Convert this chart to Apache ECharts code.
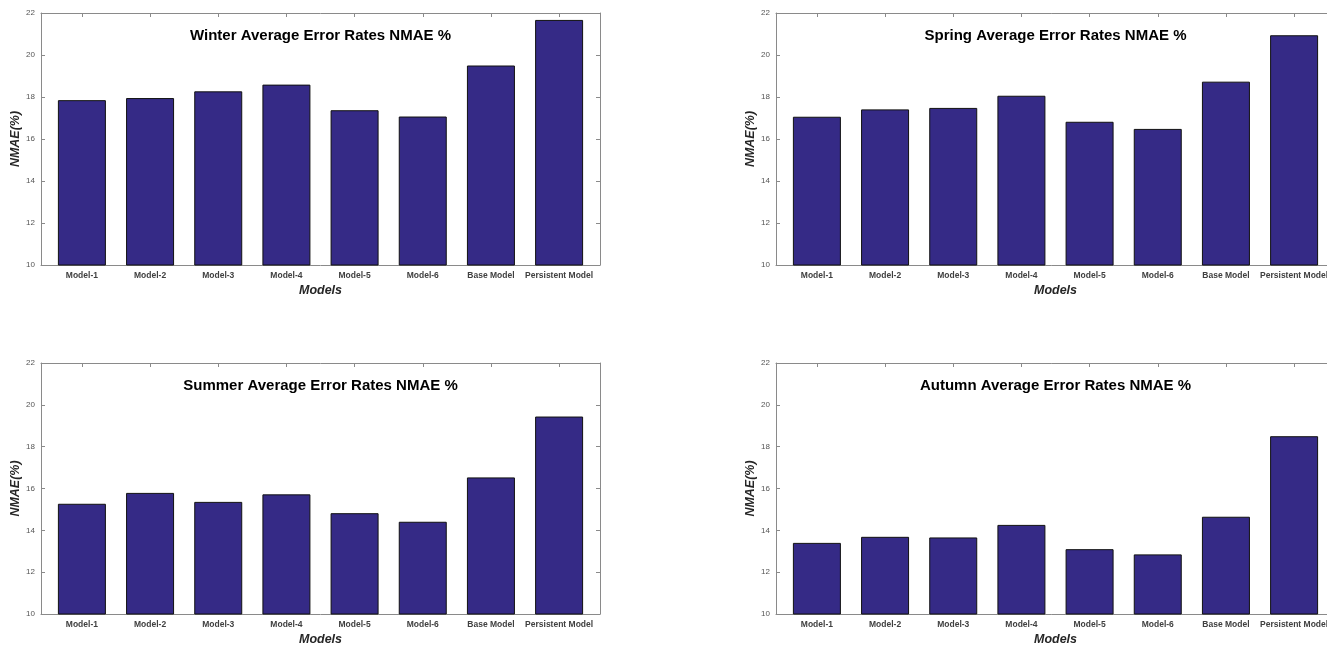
<!DOCTYPE html>
<html>
<head>
<meta charset="utf-8">
<script src="https://cdn.jsdelivr.net/npm/echarts@6/dist/echarts.min.js"></script>
<style>
html,body{margin:0;padding:0;background:#fff;}
#chart{width:1327px;height:645px;}
</style>
</head>
<body>
<div id="chart"></div>
<script>
const categories = ['Model-1','Model-2','Model-3','Model-4','Model-5','Model-6','Base Model','Persistent Model'];
const winter = [17.85, 17.95, 18.27, 18.59, 17.37, 17.07, 19.50, 21.67];
const spring = [17.06, 17.41, 17.48, 18.06, 16.82, 16.48, 18.73, 20.94];
const summer = [15.27, 15.79, 15.36, 15.72, 14.82, 14.41, 16.53, 19.44];
const autumn = [13.40, 13.69, 13.66, 14.26, 13.10, 12.85, 14.65, 18.50];
const titles = ['Winter Average Error Rates NMAE %','Spring Average Error Rates NMAE %','Summer Average Error Rates NMAE %','Autumn Average Error Rates NMAE %'];
const yName = 'NMAE(%)';
const xName = 'Models';
const yMin = 10, yMax = 22, yStep = 2;

const seriesValues = [winter, spring, summer, autumn];
const xLo = 0.4, xHi = 8.6;
// the right-hand panels run past the page edge, as in the original figure
const layouts = [
  {left: 41, top: 13, width: 559, height: 252},
  {left: 776, top: 13, width: 559, height: 252},
  {left: 41, top: 363, width: 559, height: 251},
  {left: 776, top: 363, width: 559, height: 251}
];
const FONT = 'Liberation Sans, Arial, Helvetica, sans-serif';
const lineCol = '#8a8a8a';
const tickPos = categories.map((c, i) => i + 1);

const option = {
  animation: false,
  backgroundColor: '#ffffff',
  textStyle: {fontFamily: FONT},
  title: [], grid: [], xAxis: [], yAxis: [], series: []
};

layouts.forEach((L, p) => {
  const centerX = L.left + L.width / 2;
  option.grid.push({left: L.left, top: L.top, width: L.width, height: L.height,
    containLabel: false, outerBoundsMode: 'none'});
  option.title.push({
    text: titles[p],
    left: centerX,
    top: L.top + 15,
    padding: 0,
    textAlign: 'center',
    textStyle: {fontFamily: FONT, fontSize: 15, fontWeight: 'bold', color: '#000'}
  });
  const xCommon = {
    type: 'value', gridIndex: p, min: xLo, max: xHi,
    splitLine: {show: false},
    axisLine: {show: true, onZero: false, lineStyle: {color: lineCol, width: 1}},
    axisTick: {show: true, inside: true, length: 4, customValues: tickPos, lineStyle: {color: lineCol}}
  };
  option.xAxis.push(Object.assign({}, xCommon, {
    position: 'bottom',
    axisLabel: {show: true, customValues: tickPos, margin: 6, hideOverlap: false,
      formatter: v => categories[Math.round(v) - 1] || '',
      fontFamily: FONT, fontSize: 8.5, fontWeight: 'bold', color: '#404040'}
  }));
  option.xAxis.push(Object.assign({}, xCommon, {position: 'top', axisLabel: {show: false}}));
  option.title.push({
    text: xName,
    left: centerX,
    top: L.top + L.height + 19,
    padding: 0,
    textAlign: 'center',
    textStyle: {fontFamily: FONT, fontSize: 12.5, fontWeight: 'bold', fontStyle: 'italic', color: '#262626'}
  });
  const yCommon = {
    type: 'value', gridIndex: p, min: yMin, max: yMax, interval: yStep,
    splitLine: {show: false},
    axisLine: {show: true, onZero: false, lineStyle: {color: lineCol, width: 1}},
    axisTick: {show: true, inside: true, length: 4, lineStyle: {color: lineCol}}
  };
  option.yAxis.push(Object.assign({}, yCommon, {
    position: 'left',
    name: yName, nameLocation: 'middle', nameGap: 17,
    nameTextStyle: {fontFamily: FONT, fontSize: 12.5, fontWeight: 'bold', fontStyle: 'italic', color: '#262626'},
    axisLabel: {show: true, margin: 6, fontFamily: FONT, fontSize: 8, color: '#555'}
  }));
  option.yAxis.push(Object.assign({}, yCommon, {position: 'right', axisLabel: {show: false}}));
  option.series.push({
    type: 'bar',
    xAxisIndex: p * 2, yAxisIndex: p * 2,
    barWidth: 48,
    clip: true,
    itemStyle: {color: '#352a86', borderColor: '#111', borderWidth: 1},
    data: seriesValues[p].map((v, i) => [i + 1, v])
  });
});

const chart = echarts.init(document.getElementById('chart'), null, {renderer: 'canvas'});
chart.setOption(option);
</script>
</body>
</html>
